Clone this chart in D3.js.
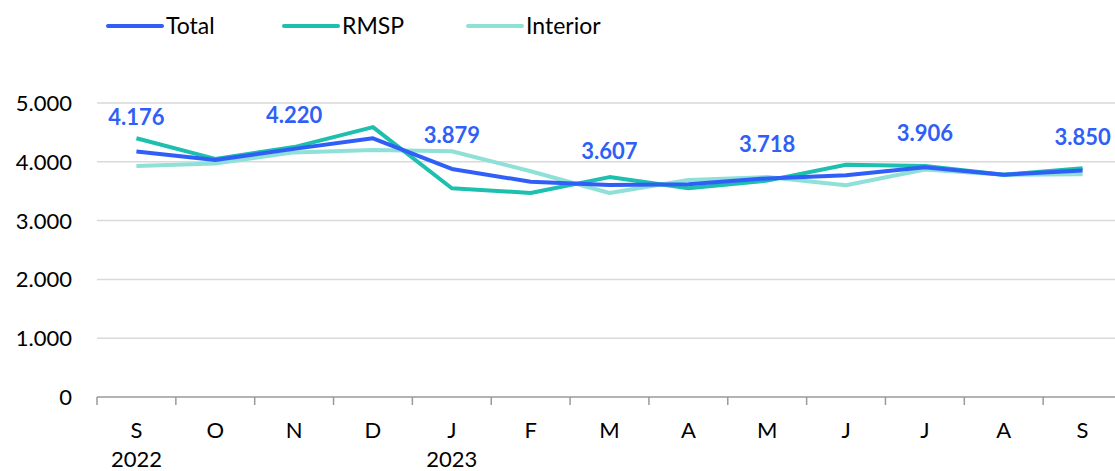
<!DOCTYPE html>
<html>
<head>
<meta charset="utf-8">
<script src="https://cdn.jsdelivr.net/npm/d3@7"></script>
<style>
	body { margin: 0; background: #fff; }
	text { font-family: Lato, "Noto Sans", sans-serif; }
</style>
</head>
<body>
<svg id="chart" width="1115" height="471"></svg>
<script>
// data
var months = ["S", "O", "N", "D", "J", "F", "M", "A", "M", "J", "J", "A", "S"];
var years = ["2022", "", "", "", "2023", "", "", "", "", "", "", "", ""];
var total = [4176, 4030, 4220, 4400, 3879, 3660, 3607, 3620, 3718, 3770, 3906, 3780, 3850];
var rmsp = [4400, 4050, 4250, 4590, 3550, 3470, 3740, 3550, 3680, 3950, 3930, 3780, 3890];
var interior = [3930, 3970, 4160, 4200, 4180, 3840, 3470, 3690, 3740, 3600, 3870, 3780, 3790];
var labelIdx = [0, 2, 4, 6, 8, 10, 12];
var yTicks = [0, 1000, 2000, 3000, 4000, 5000];

var series = [
	{name: "Total", values: total, color: "#2f5ff7"},
	{name: "RMSP", values: rmsp, color: "#1dbfae"},
	{name: "Interior", values: interior, color: "#8fe0d7"}
];
var legendX = [108, 284, 468];

var svg = d3.select("#chart");
var fmt = function(v){ return d3.format(",")(v).replace(/,/g, "."); };

var x = d3.scaleBand()
	.domain(d3.range(months.length))
	.range([97, 1122]);
var y = d3.scaleLinear()
	.domain([0, 5000])
	.range([397, 103]);

// gridlines
svg.append("g").selectAll("line")
	.data(yTicks.slice(1))
	.enter().append("line")
	.attr("x1", 97).attr("x2", 1115)
	.attr("y1", function(d){ return y(d); })
	.attr("y2", function(d){ return y(d); })
	.style("stroke", "#d9d9d9")
	.style("stroke-width", 1.5);

// y labels
svg.append("g").selectAll("text")
	.data(yTicks)
	.enter().append("text")
	.attr("x", 72)
	.attr("y", function(d){ return y(d) + 8; })
	.attr("text-anchor", "end")
	.style("font-size", "22px")
	.style("fill", "#000")
	.text(fmt);

// x axis
svg.append("line")
	.attr("x1", 97).attr("x2", 1115)
	.attr("y1", 397).attr("y2", 397)
	.style("stroke", "#9a9a9a").style("stroke-width", 1.5);
svg.append("g").selectAll("line")
	.data(d3.range(months.length))
	.enter().append("line")
	.attr("x1", function(d){ return x(d); })
	.attr("x2", function(d){ return x(d); })
	.attr("y1", 397).attr("y2", 405)
	.style("stroke", "#9a9a9a").style("stroke-width", 1.5);

svg.append("g").selectAll("text")
	.data(months)
	.enter().append("text")
	.attr("x", function(d, i){ return x(i) + x.bandwidth()/2; })
	.attr("y", 438)
	.attr("text-anchor", "middle")
	.style("font-size", "22px")
	.text(function(d){ return d; });

svg.append("g").selectAll("text")
	.data(years)
	.enter().append("text")
	.attr("x", function(d, i){ return x(i) + x.bandwidth()/2; })
	.attr("y", 467)
	.attr("text-anchor", "middle")
	.style("font-size", "22px")
	.text(function(d){ return d; });

// lines, drawn so Total sits on top
var line = d3.line()
	.x(function(d, i){ return x(i) + x.bandwidth()/2; })
	.y(function(d){ return y(d); });

[series[2], series[1], series[0]].forEach(function(s){
	svg.append("path")
		.datum(s.values)
		.attr("d", line)
		.style("fill", "none")
		.style("stroke", s.color)
		.style("stroke-width", 4)
		.style("stroke-linejoin", "round");
});

// data labels
svg.append("g").selectAll("text")
	.data(labelIdx)
	.enter().append("text")
	.attr("x", function(i){ return x(i) + x.bandwidth()/2; })
	.attr("y", function(i){ return y(total[i]) - 26; })
	.attr("text-anchor", "middle")
	.style("font-size", "22px")
	.style("font-weight", "bold")
	.style("fill", "#2f5ff7")
	.text(function(i){ return fmt(total[i]); });

// legend
var leg = svg.append("g").selectAll("g")
	.data(series)
	.enter().append("g")
	.attr("transform", function(d, i){ return "translate(" + legendX[i] + ",26)"; });
leg.append("line")
	.attr("x1", 0).attr("x2", 54)
	.style("stroke", function(d){ return d.color; })
	.style("stroke-width", 4)
	.style("stroke-linecap", "round");
leg.append("text")
	.attr("x", 58).attr("y", 8)
	.style("font-size", "23px")
	.text(function(d){ return d.name; });
</script>
</body>
</html>
